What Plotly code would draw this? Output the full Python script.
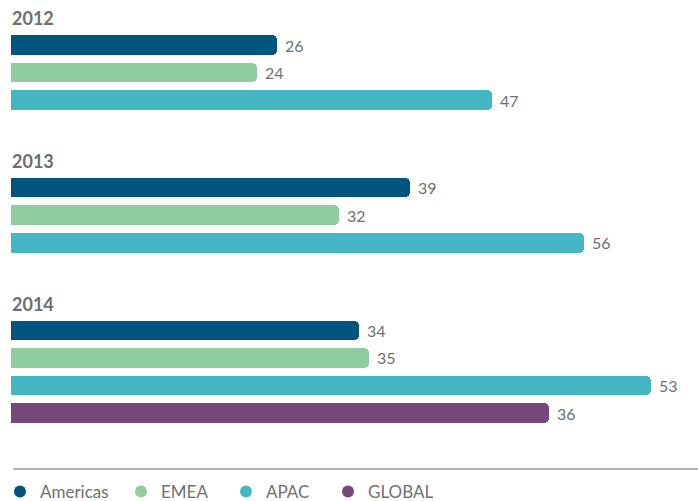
import plotly.graph_objects as go

# ---- data ----
years = ["2012", "2013", "2014"]
regions = ["Americas", "EMEA", "APAC", "GLOBAL"]
colors = ["#00557f", "#8dcd9e", "#45b6c4", "#77477c"]
# printed values
americas = [26, 39, 34]
emea = [24, 32, 35]
apac = [47, 56, 53]
global_ = [None, None, 36]
# bar extents as drawn in the source (two 2014 bars are drawn longer than their printed values)
americas_len = [26, 39, 34]
emea_len = [24, 32, 35]
apac_len = [47, 56, 62.5]
global_len = [None, None, 52.5]

printed = [americas, emea, apac, global_]
lengths = [americas_len, emea_len, apac_len, global_len]

# ---- layout helpers ----
group_step = 5.17      # rows between group labels
label_gap = 0.97       # rows from group label to first bar
px_per_row = 27.6
first_bar_px = 45
H, W = 501, 698
legend_px = [-4, 121, 226, 328]
FONT = "Lato"

fig = go.Figure()
for r, name in enumerate(regions):
    ys, xs, ts = [], [], []
    for g, _ in enumerate(years):
        v = lengths[r][g]
        if v is None:
            continue
        ys.append(g * group_step + label_gap + r)
        xs.append(v)
        ts.append(str(printed[r][g]))
    fig.add_trace(go.Bar(
        x=xs, y=ys, orientation="h", width=0.71,
        marker=dict(color=colors[r], cornerradius=5, line=dict(width=0)),
        showlegend=False, hoverinfo="skip",
    ))
    for x, y, t in zip(xs, ys, ts):
        fig.add_annotation(x=x, y=y, text=t, showarrow=False, xanchor="left",
                           yanchor="middle", xshift=6,
                           font=dict(family=FONT, size=16, color="#707070"))
    lg = "legend" if r == 0 else "legend%d" % (r + 1)
    fig.add_trace(go.Scatter(
        x=[None], y=[None], mode="markers", name=name, legend=lg,
        marker=dict(symbol="circle", size=12, color=colors[r]),
    ))
    fig.update_layout({lg: dict(
        orientation="h", xref="container", yref="container",
        x=legend_px[r] / W, xanchor="left", y=1 - 492 / H, yanchor="middle",
        font=dict(family=FONT, size=17, color="#707070"),
        itemwidth=30, bgcolor="rgba(0,0,0,0)")})

for g, yr in enumerate(years):
    fig.add_annotation(
        x=0, y=g * group_step, xref="x", yref="y", text="<b>" + yr + "</b>",
        showarrow=False, xanchor="left", yanchor="middle", xshift=-1,
        font=dict(family=FONT, size=18, color="#6e6e6e"),
    )

top_val = -(first_bar_px - label_gap * px_per_row) / px_per_row
bottom_val = top_val + H / px_per_row

fig.add_shape(type="line", xref="paper", yref="paper",
              x0=2 / 687, x1=1, y0=1 - 469 / H, y1=1 - 469 / H,
              line=dict(color="#9a9a9a", width=1.5))

fig.update_layout(
    width=W, height=H,
    margin=dict(l=11, r=0, t=0, b=0, autoexpand=False),
    paper_bgcolor="white", plot_bgcolor="white",
    xaxis=dict(range=[0, 67.1], visible=False, fixedrange=True),
    yaxis=dict(range=[bottom_val, top_val], visible=False, fixedrange=True),
    bargap=0,
    showlegend=True,
)

fig.write_html("out.html")
